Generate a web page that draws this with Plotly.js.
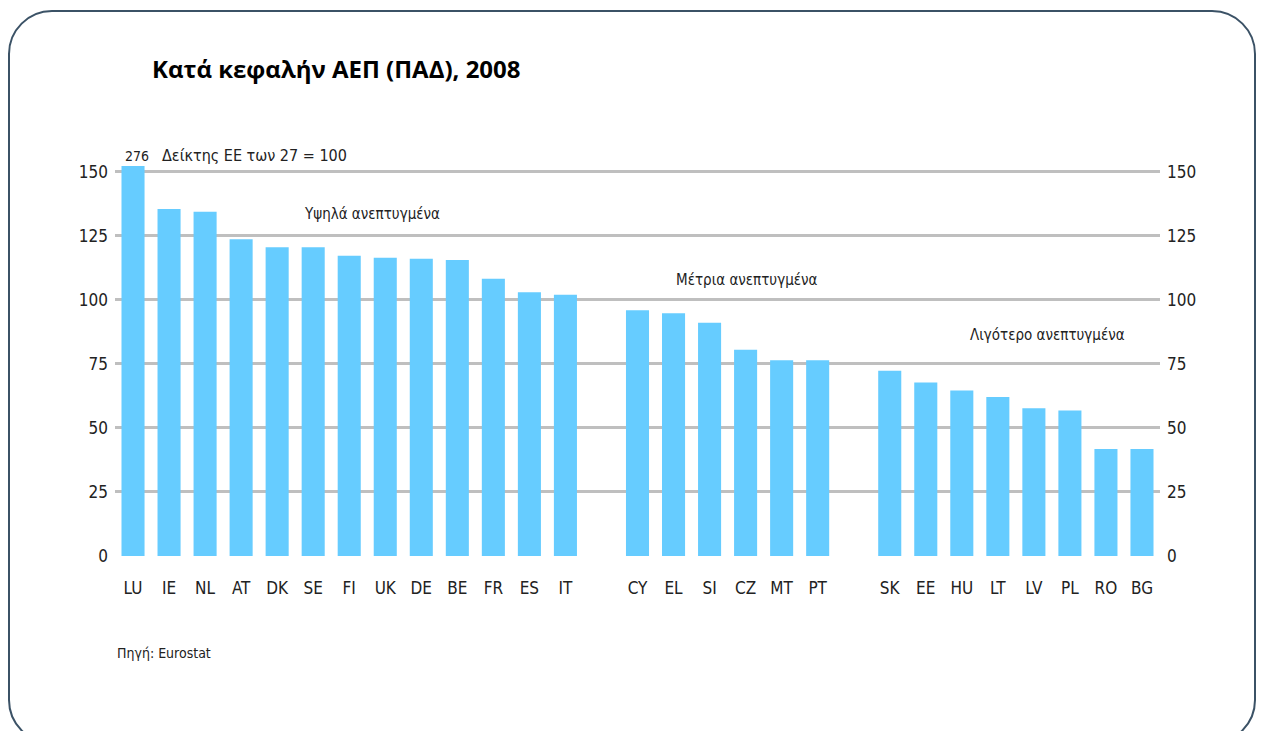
<!DOCTYPE html>
<html>
<head>
<meta charset="utf-8">
<script src="https://cdn.plot.ly/plotly-3.0.1.min.js"></script>
<style>
  html, body { margin: 0; padding: 0; background: #ffffff; overflow: hidden; }
  #wrap { position: relative; width: 1263px; height: 731px; }
  #chart { position: absolute; left: 0; top: 0; width: 1263px; height: 731px; }
  #frame { position: absolute; left: 8px; top: 10px; width: 1244px; height: 730px;
           border: 2.5px solid #3b5266; border-radius: 44px; pointer-events: none; }
</style>
</head>
<body>
<div id="wrap">
  <div id="chart"></div>
  <div id="frame"></div>
</div>
<script>
// Categories (blank entries are the gaps between groups)
const countries = ["LU","IE","NL","AT","DK","SE","FI","UK","DE","BE","FR","ES","IT",
                   " ",
                   "CY","EL","SI","CZ","MT","PT",
                   "  ",
                   "SK","EE","HU","LT","LV","PL","RO","BG"];
// GDP per capita in PPS, EU27 = 100 (LU = 276 runs off the scale)
const gdpIndex = [276,135.5,134.4,123.7,120.6,120.6,117.3,116.5,116.1,115.6,108.3,103,102,
                  null,
                  96,94.8,91.1,80.5,76.4,76.4,
                  null,
                  72.3,67.8,64.6,62.1,57.7,56.8,41.8,41.8];
const yTicks = [0,25,50,75,100,125,150];
const luLabel = "276";

const narrow = "'Liberation Sans Narrow', 'Arial Narrow', 'DejaVu Sans Condensed', 'Liberation Sans', Arial, sans-serif";
const tickFont = {family: narrow, size: 17, color: "#222"};
const noteFont = {family: narrow, size: 16, color: "#222"};

const traces = [
  {
    type: "bar", x: countries, y: gdpIndex,
    marker: {color: "#66CCFF"},
    hoverinfo: "x+y", showlegend: false
  },
  {
    type: "scatter", mode: "markers", x: countries, y: gdpIndex, yaxis: "y2",
    marker: {opacity: 0, size: 1}, hoverinfo: "skip", showlegend: false
  }
];

const layout = {
  width: 1263, height: 731,
  margin: {l: 115, r: 103, t: 166, b: 175},
  paper_bgcolor: "rgba(0,0,0,0)", plot_bgcolor: "rgba(0,0,0,0)",
  bargap: 0.36,
  title: {
    text: "<b>Κατά κεφαλήν ΑΕΠ (ΠΑΔ), 2008</b>",
    font: {family: "'Open Sans', 'Noto Sans', sans-serif", size: 24, color: "#000"},
    x: 152/1263, xanchor: "left", xref: "container",
    y: 1 - 70/731, yanchor: "middle", yref: "container"
  },
  xaxis: {
    type: "category", categoryorder: "array", categoryarray: countries,
    range: [-0.5, countries.length - 0.5], autorange: false,
    tickfont: tickFont, showgrid: false, zeroline: false, showline: false,
    ticks: "", ticklabelstandoff: 20, fixedrange: true
  },
  yaxis: {
    range: [0, 152.3], tickvals: yTicks, ticktext: yTicks.map(String),
    tickfont: tickFont, showgrid: true, gridcolor: "#bfbfbf", gridwidth: 3,
    zeroline: false, showline: false, ticks: "", ticklabelstandoff: 6, fixedrange: true
  },
  yaxis2: {
    overlaying: "y", side: "right",
    range: [0, 152.3], tickvals: yTicks, ticktext: yTicks.map(String),
    tickfont: tickFont, showgrid: false, zeroline: false, showline: false,
    ticks: "", ticklabelstandoff: 6, fixedrange: true
  },
  annotations: [
    {text: luLabel, xref: "paper", yref: "paper", x: 22/1045, y: 1.026, xanchor: "center", yanchor: "middle",
     showarrow: false, font: {family: narrow, size: 14, color: "#222"}},
    {text: "Δείκτης ΕΕ των 27 = 100", xref: "paper", yref: "paper", x: 45/1045, y: 1.028, xanchor: "left", yanchor: "middle",
     showarrow: false, font: noteFont},
    {text: "Υψηλά ανεπτυγμένα", xref: "paper", yref: "paper", x: 257/1045, y: (556-214)/390, xanchor: "center", yanchor: "middle",
     showarrow: false, font: {family: narrow, size: 15, color: "#222"}},
    {text: "Μέτρια ανεπτυγμένα", xref: "paper", yref: "paper", x: 632/1045, y: (556-280)/390, xanchor: "center", yanchor: "middle",
     showarrow: false, font: {family: narrow, size: 15, color: "#222"}},
    {text: "Λιγότερο ανεπτυγμένα", xref: "paper", yref: "paper", x: 932/1045, y: (556-335)/390, xanchor: "center", yanchor: "middle",
     showarrow: false, font: {family: narrow, size: 15, color: "#222"}},
    {text: "Πηγή: Eurostat", xref: "paper", yref: "paper", x: 0, y: (556-653)/390, xanchor: "left", yanchor: "middle",
     showarrow: false, font: {family: narrow, size: 14, color: "#222"}}
  ]
};

Plotly.newPlot("chart", traces, layout, {displayModeBar: false, staticPlot: true});
</script>
</body>
</html>
